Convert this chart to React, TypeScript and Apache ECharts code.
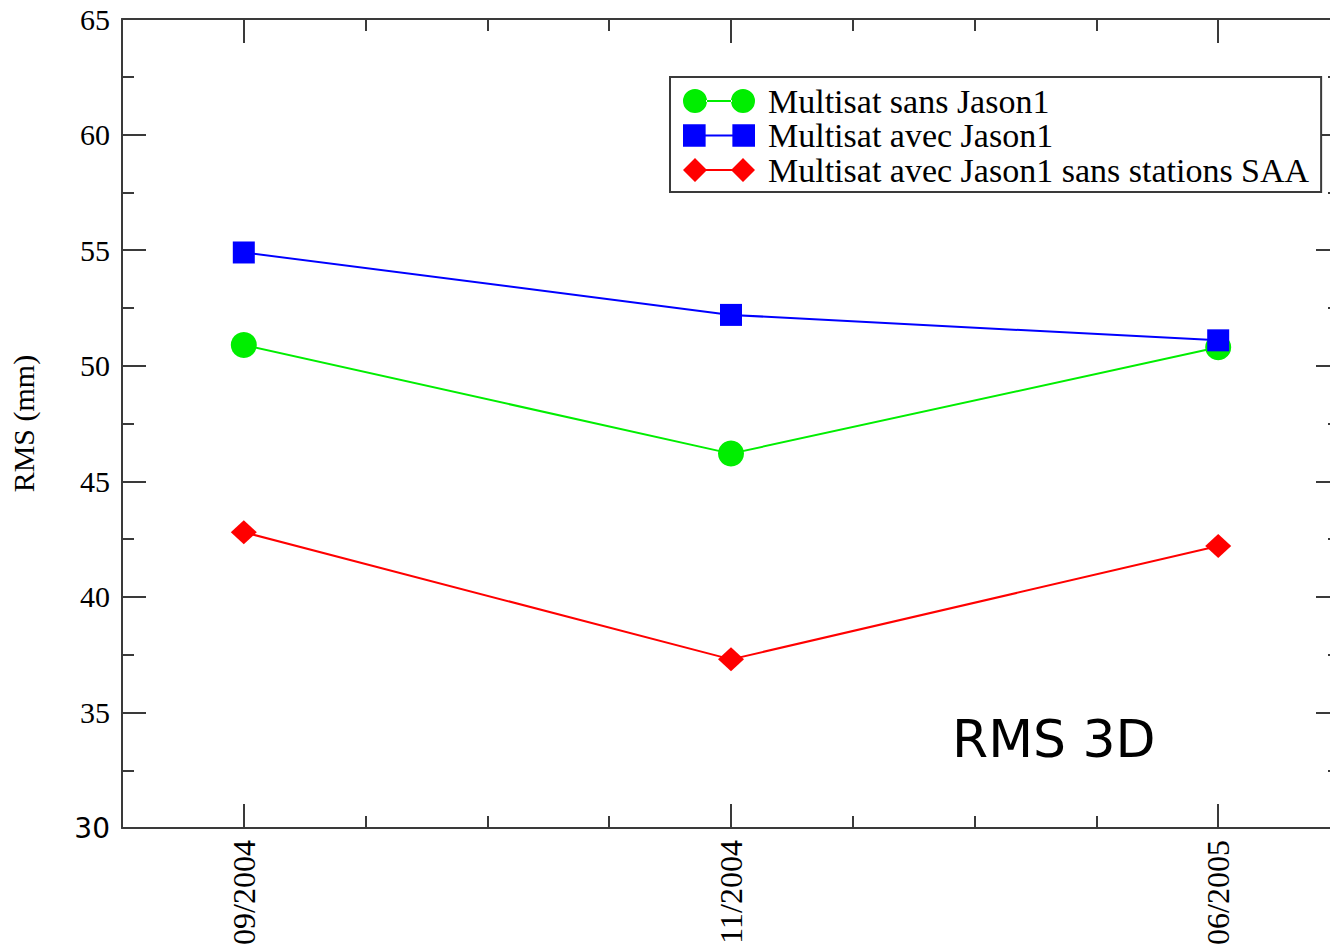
import React, { useEffect, useRef } from "react";
import * as echarts from "echarts";

const dateLabels = ["09/2004", "11/2004", "06/2005"];
const xPositions = [0, 1, 2];
const sansJason1 = [50.9, 46.2, 50.8];
const avecJason1 = [54.9, 52.2, 51.1];
const avecJason1SansSAA = [42.8, 37.3, 42.2];
const seriesNames = [
  "Multisat sans Jason1",
  "Multisat avec Jason1",
  "Multisat avec Jason1 sans stations SAA",
];

const SERIF = "Liberation Serif";
const AXIS_COLOR = "#3a3a3a";

const iconCircle =
  "path://M0,12 A12,12 0 1,0 24,12 A12,12 0 1,0 0,12 Z M48,12 A12,12 0 1,0 72,12 A12,12 0 1,0 48,12 Z M23,11 L49,11 L49,13 L23,13 Z";
const iconSquare =
  "path://M1,1 L23,1 L23,23 L1,23 Z M49,1 L71,1 L71,23 L49,23 Z M23,11 L49,11 L49,13 L23,13 Z";
const iconDiamond =
  "path://M0,12 L12,0 L24,12 L12,24 Z M48,12 L60,0 L72,12 L60,24 Z M23,11 L49,11 L49,13 L23,13 Z";

function toPoints(vals: number[]) {
  return vals.map((v, i) => [xPositions[i], v]);
}

export default function App() {
  const ref = useRef<HTMLDivElement>(null);
  useEffect(() => {
    document.body.style.margin = "0";
    document.body.style.overflow = "hidden";
    document.documentElement.style.overflow = "hidden";
    const chart = echarts.init(ref.current!, null, { renderer: "svg" });
    const lineStyle = { color: AXIS_COLOR, width: 2 };
    const baseX = {
      type: "value" as const,
      min: -0.25,
      max: 2.25,
      interval: 0.25,
      splitLine: { show: false },
    };
    const baseY = {
      type: "value" as const,
      min: 30,
      max: 65,
      interval: 5,
      splitLine: { show: false },
      minorTick: { show: true, splitNumber: 2, length: 12, lineStyle },
      minorSplitLine: { show: false },
    };
    chart.setOption({
      animation: false,
      backgroundColor: "#ffffff",
      grid: { left: 122, top: 19, width: 1218, height: 812, containLabel: false },
      xAxis: [
        {
          ...baseX,
          position: "bottom",
          axisLine: { show: true, onZero: false, lineStyle },
          axisTick: { show: true, inside: true, length: 24, lineStyle, customValues: xPositions },
          axisLabel: {
            show: true,
            customValues: xPositions,
            rotate: 90,
            margin: 12,
            fontFamily: SERIF,
            fontSize: 32,
            color: "#000",
            formatter: (v: number) => (Number.isInteger(v) ? dateLabels[v] ?? "" : ""),
          },
        },
        {
          ...baseX,
          position: "bottom",
          axisLine: { show: false, onZero: false },
          axisTick: { show: true, inside: true, length: 12, lineStyle },
          axisLabel: { show: false },
        },
        {
          ...baseX,
          position: "top",
          axisLine: { show: true, onZero: false, lineStyle },
          axisTick: { show: true, inside: true, length: 24, lineStyle, customValues: xPositions },
          axisLabel: { show: false },
        },
        {
          ...baseX,
          position: "top",
          axisLine: { show: false, onZero: false },
          axisTick: { show: true, inside: true, length: 12, lineStyle },
          axisLabel: { show: false },
        },
      ],
      yAxis: [
        {
          ...baseY,
          position: "left",
          name: "RMS (mm)",
          nameLocation: "middle",
          nameGap: 84,
          nameTextStyle: { fontFamily: SERIF, fontSize: 30, color: "#000" },
          axisLine: { show: true, onZero: false, lineStyle },
          axisTick: { show: true, inside: true, length: 24, lineStyle },
          axisLabel: {
            show: true,
            margin: 12,
            fontFamily: SERIF,
            fontSize: 30,
            color: "#000",
            formatter: (v: number) => (v === 30 ? "{s|30}" : String(v)),
            rich: { s: { fontFamily: "DejaVu Sans", fontSize: 28, color: "#000" } },
          },
        },
        {
          ...baseY,
          position: "right",
          axisLine: { show: true, onZero: false, lineStyle },
          axisTick: { show: true, inside: true, length: 24, lineStyle },
          axisLabel: { show: false },
        },
      ],
      legend: {
        orient: "vertical",
        left: 670,
        top: 77,
        padding: [7, 12, 5, 13],
        itemGap: 0.5,
        itemWidth: 72,
        itemHeight: 24,
        backgroundColor: "#ffffff",
        borderColor: AXIS_COLOR,
        borderWidth: 2,
        borderRadius: 0,
        textStyle: {
          fontFamily: SERIF,
          fontSize: 34,
          color: "#000",
          padding: [0, 0, 0, 8],
        },
        data: [
          { name: seriesNames[0], icon: iconCircle },
          { name: seriesNames[1], icon: iconSquare },
          { name: seriesNames[2], icon: iconDiamond },
        ],
      },
      graphic: [
        {
          type: "text",
          left: 952,
          top: 713,
          style: {
            text: "RMS 3D",
            fontFamily: "DejaVu Sans",
            fontSize: 52,
            fill: "#000",
          },
        },
      ],
      series: [
        {
          name: seriesNames[0],
          type: "line",
          data: toPoints(sansJason1),
          symbol: "circle",
          symbolSize: 26,
          itemStyle: { color: "#00ee00" },
          lineStyle: { color: "#00ee00", width: 2 },
        },
        {
          name: seriesNames[1],
          type: "line",
          data: toPoints(avecJason1),
          symbol: "rect",
          symbolSize: 22,
          itemStyle: { color: "#0000ff" },
          lineStyle: { color: "#0000ff", width: 2 },
        },
        {
          name: seriesNames[2],
          type: "line",
          data: toPoints(avecJason1SansSAA),
          symbol: "diamond",
          symbolSize: [26, 24],
          itemStyle: { color: "#ff0000" },
          lineStyle: { color: "#ff0000", width: 2 },
        },
      ],
    });
    return () => chart.dispose();
  }, []);
  return (
    <div
      ref={ref}
      style={{ position: "fixed", left: 0, top: 0, width: 1350, height: 948 }}
    />
  );
}
